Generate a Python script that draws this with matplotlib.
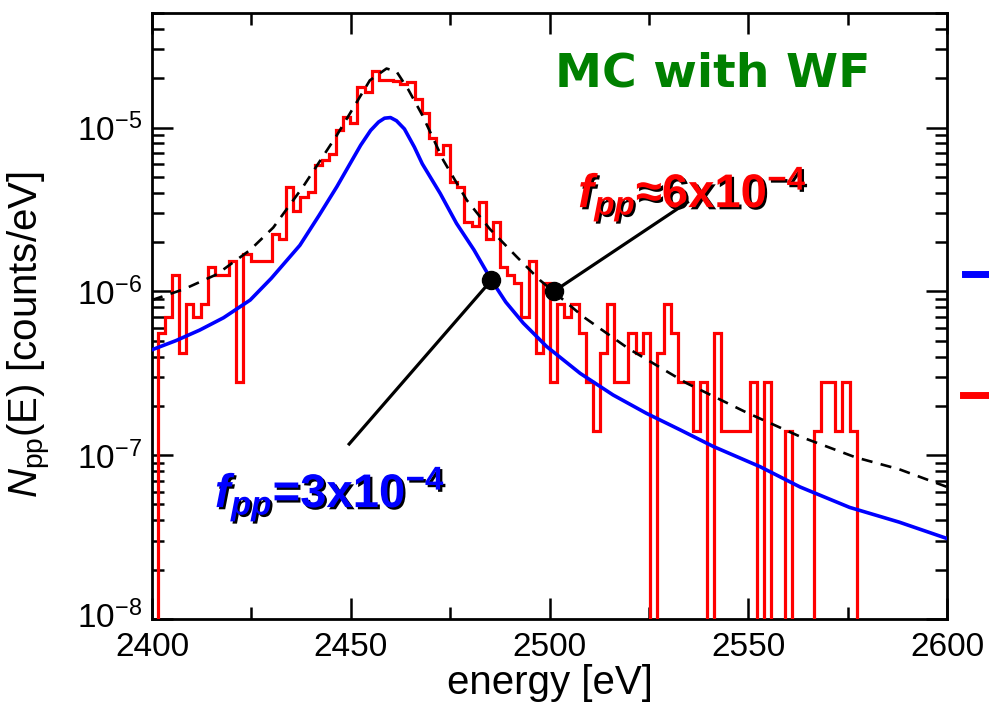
import numpy as np
import matplotlib
matplotlib.use('Agg')
import matplotlib.pyplot as plt
import matplotlib.patheffects as pe
import matplotlib.transforms as mtransforms
from matplotlib.lines import Line2D
from matplotlib.ticker import MultipleLocator, LogLocator, NullFormatter

plt.rcParams['font.family'] = ['Liberation Sans', 'DejaVu Sans']
plt.rcParams['mathtext.fontset'] = 'custom'
plt.rcParams['mathtext.rm'] = 'Liberation Sans'
plt.rcParams['mathtext.it'] = 'Liberation Sans:italic'
plt.rcParams['mathtext.bf'] = 'Liberation Sans:bold'
if 'mathtext.bfit' in plt.rcParams:
    plt.rcParams['mathtext.bfit'] = 'Liberation Sans:bold:italic'

# ---------------- data ----------------
# MC histogram (red): uniform bins, counts per bin, one count = hist_unit counts/eV
hist_first_edge = 2401.46
hist_bin_width = 1.794
hist_unit = 1.4e-7
hist_counts = [4, 5, 9, 3, 6, 5, 6, 10, 9, 9,
               11, 2, 12, 11, 11, 11, 16, 15, 31, 22,
               27, 29, 42, 45, 49, 69, 83, 76, 126, 118,
               158, 140, 140, 138, 132, 135, 106, 87, 62, 49,
               56, 33, 31, 19, 18, 25, 15, 19, 10, 9,
               8, 5, 11, 3, 8, 2, 6, 5, 6, 4,
               2, 1, 3, 6, 2, 2, 4, 3, 4, 0,
               3, 6, 4, 2, 2, 1, 2, 0, 4, 1,
               1, 1, 1, 2, 0, 2, 0, 0, 1, 0,
               0, 0, 1, 2, 2, 1, 2, 1]

# blue curve (f_pp = 3e-4)
blue_E = [2400, 2406, 2412, 2418, 2424.7, 2430, 2437.2, 2442, 2446.5, 2449.8, 2452.5, 2455,
          2457, 2458.5, 2460, 2461.5, 2463.5, 2466, 2468, 2472.5, 2476.6, 2481, 2485.4,
          2489, 2493.4, 2499.3, 2507.7, 2516, 2524.4, 2532.8, 2541.2, 2553, 2563, 2575.5,
          2588, 2600]
blue_N = [4.4e-7, 5.0e-7, 5.8e-7, 6.9e-7, 8.85e-7, 1.2e-6, 1.91e-6, 2.9e-6, 4.35e-6, 6.0e-6, 7.8e-6, 9.6e-6,
          1.08e-5, 1.14e-5, 1.15e-5, 1.1e-5, 9.8e-6, 7.6e-6, 6.0e-6, 3.96e-6, 2.6e-6, 1.79e-6, 1.17e-6,
          8.6e-7, 6.4e-7, 4.6e-7, 3.16e-7, 2.33e-7, 1.8e-7, 1.43e-7, 1.13e-7, 8.5e-8, 6.4e-8, 4.8e-8,
          3.9e-8, 3.1e-8]

# dashed black curve (f_pp ~ 6e-4)
dash_E = [2400, 2408, 2416.3, 2424.7, 2430.5, 2438, 2446.5, 2454.8, 2459, 2461.5,
          2464.5, 2468, 2473.3, 2479.2, 2485, 2491.7, 2497.6, 2508.5, 2520, 2534.5,
          2549.6, 2563, 2577, 2588, 2600]
dash_N = [8.85e-7, 1.03e-6, 1.27e-6, 1.79e-6, 2.45e-6, 4.35e-6, 8.97e-6, 1.94e-5, 2.29e-5, 2.2e-5,
          1.7e-5, 1.19e-5, 6.3e-6, 3.6e-6, 2.4e-6, 1.63e-6, 1.17e-6, 7.0e-7, 4.45e-7, 2.75e-7,
          1.82e-7, 1.3e-7, 9.7e-8, 8.2e-8, 6.4e-8]

# marked points
dot_E = [2485.4, 2501.1]
dot_N = [1.17e-6, 1.0e-6]

xticks = [2400, 2450, 2500, 2550, 2600]

# ---------------- figure ----------------
fig = plt.figure(figsize=(9.89, 7.06), dpi=100)
ax = fig.add_axes([152/989, 1-619/706, (947-152)/989, (619-13)/706])

edges = hist_first_edge + hist_bin_width*np.arange(len(hist_counts)+1)
vals = np.array(hist_counts, dtype=float)*hist_unit
ax.stairs(vals, edges, baseline=0, fill=False, color='#ff0000', lw=2.3, zorder=3)
ax.plot(blue_E, blue_N, color='#0000ff', lw=2.6, zorder=4)
ax.plot(dash_E, dash_N, color='black', lw=1.9, ls=(0, (4.2, 3.2)), zorder=5)

ax.set_yscale('log')
ax.set_xlim(2400, 2600)
ax.set_ylim(1e-8, 5e-5)

ax.set_xticks(xticks)
ax.xaxis.set_minor_locator(MultipleLocator(25))
ax.yaxis.set_major_locator(LogLocator(base=10, numticks=20))
ax.yaxis.set_minor_locator(LogLocator(base=10, subs=np.arange(2, 10), numticks=20))
ax.yaxis.set_minor_formatter(NullFormatter())

ax.tick_params(which='both', direction='in', top=True, right=True, width=1.8)
ax.tick_params(which='major', length=15, labelsize=24, pad=7)
ax.tick_params(axis='x', which='major', pad=9)
ax.tick_params(which='minor', length=8.5)
for s in ax.spines.values():
    s.set_linewidth(2.0)

ax.set_xlabel('energy [eV]', fontsize=29, labelpad=1)
ax.set_ylabel(r'$N_{\rm pp}$(E) [counts/eV]', fontsize=29, labelpad=2)
ax.yaxis.set_label_coords(-0.125, 0.47)

# nudge the lowest y tick label up slightly so it clears the first x label
fig.canvas.draw()
for lbl in ax.get_yticklabels():
    if abs(lbl.get_position()[1] - 1e-8) < 1e-12:
        lbl.set_transform(lbl.get_transform() +
                          mtransforms.ScaledTranslation(0, 5/100, fig.dpi_scale_trans))

# annotation lines and dots
ax.plot([dot_E[0], 2449.6], [dot_N[0], 1.17e-7], color='black', lw=2.3, zorder=6)
ax.plot([dot_E[1], 2534.7], [dot_N[1], 3.5e-6], color='black', lw=2.3, zorder=6)
ax.plot(dot_E, dot_N, 'o', color='black', ms=13, zorder=7)

shadow = [pe.withSimplePatchShadow(offset=(1.6, -1.6), shadow_rgbFace='black', alpha=1.0)]
ax.text(0.705, 0.9, 'MC with WF', transform=ax.transAxes, fontsize=34, fontweight='bold',
        family='DejaVu Sans', color='#008000', ha='center', va='center')
ax.text(0.536, 0.70, r'$\mathbfit{f}_{\mathbfit{pp}}$≈6x10$^{\mathbf{-4}}$', transform=ax.transAxes,
        fontsize=34, fontweight='bold', color='#ff0000', ha='left', va='center', path_effects=shadow)
ax.text(0.079, 0.205, r'$\mathbfit{f}_{\mathbfit{pp}}$=3x10$^{\mathbf{-4}}$', transform=ax.transAxes,
        fontsize=34, fontweight='bold', color='#0000ff', ha='left', va='center', path_effects=shadow)

# legend line stubs (legend labels fall outside the cropped figure)
fig.add_artist(Line2D([965/989, 1.0], [1-274/706]*2, color='#0000ff', lw=5, transform=fig.transFigure))
fig.add_artist(Line2D([963/989, 1.0], [1-395/706]*2, color='#ff0000', lw=5, transform=fig.transFigure))

fig.savefig('out.png', dpi=100)
